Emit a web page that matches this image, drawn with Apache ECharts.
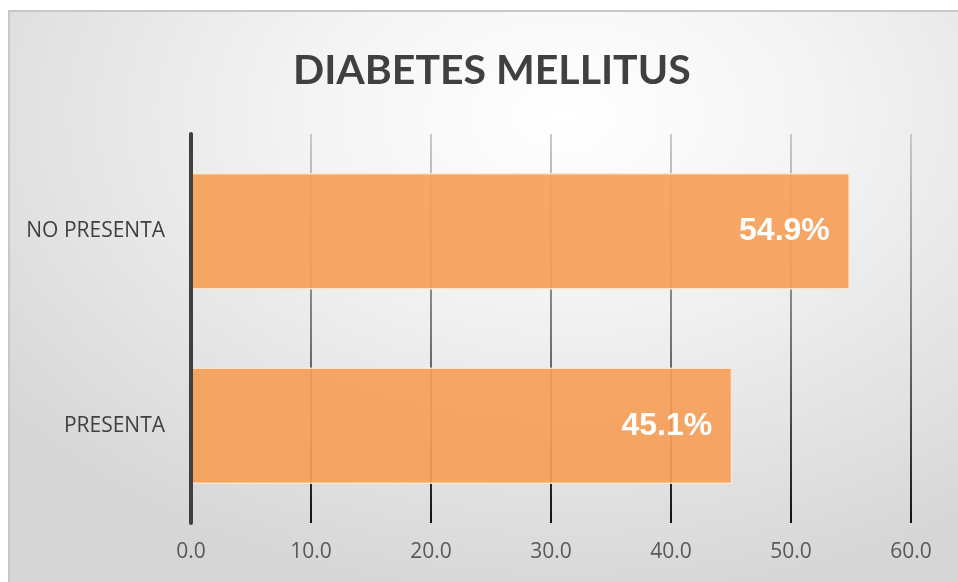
<!DOCTYPE html>
<html>
<head>
<meta charset="utf-8">
<script src="https://cdn.jsdelivr.net/npm/echarts@6/dist/echarts.min.js"></script>
<style>
  html, body { margin: 0; padding: 0; background: #ffffff; }
  #frame {
    position: absolute; left: 8px; top: 10px; width: 960px; height: 580px;
    border: 2px solid #c8c8c8; box-sizing: border-box;
    background: radial-gradient(ellipse 75% 85% at 58% 18%, #ffffff 0%, #f4f4f4 35%, #e4e4e4 70%, #d6d6d6 100%);
  }
  #chart { position: absolute; left: 0; top: 0; width: 958px; height: 582px; }
</style>
</head>
<body>
<div id="frame"></div>
<div id="chart"></div>
<script>
// Categories listed bottom-to-top (category axis on y starts at the bottom)
const categories = ['PRESENTA', 'NO PRESENTA'];
const percentages = [45.1, 54.9];
const xTicks = { min: 0, max: 60, step: 10 };

const chart = echarts.init(document.getElementById('chart'), null, { renderer: 'canvas' });

chart.setOption({
  backgroundColor: 'transparent',
  animation: false,
  title: {
    text: 'DIABETES MELLITUS',
    left: 288,
    top: 45,
    textStyle: { fontFamily: 'Lato', fontWeight: 'bold', fontSize: 41, color: '#404040' }
  },
  grid: { left: 191, right: 47, top: 134, bottom: 59, containLabel: false },
  xAxis: {
    type: 'value',
    min: xTicks.min, max: xTicks.max, interval: xTicks.step,
    axisLine: { show: false },
    axisTick: { show: false },
    axisLabel: {
      margin: 19,
      fontFamily: 'Open Sans', fontSize: 21, color: '#595959',
      formatter: v => v.toFixed(1)
    },
    splitLine: {
      show: true,
      lineStyle: {
        width: 2,
        color: new echarts.graphic.LinearGradient(0, 0, 0, 1, [
          { offset: 0, color: '#cbcbcb' },
          { offset: 0.5, color: '#7a7a7a' },
          { offset: 1, color: '#111111' }
        ])
      }
    }
  },
  yAxis: {
    type: 'category',
    data: categories,
    z: 5,
    axisLine: { show: true, lineStyle: { color: '#404040', width: 4 } },
    axisTick: { show: false },
    axisLabel: { margin: 26, fontFamily: 'Open Sans', fontSize: 21, color: '#404040' }
  },
  series: [{
    type: 'bar',
    data: percentages,
    barWidth: '60%',
    itemStyle: {
      color: 'rgba(245, 160, 88, 0.92)',
      borderColor: 'rgba(255, 230, 205, 0.9)',
      borderWidth: 1.5
    },
    label: {
      show: true,
      position: 'insideRight',
      distance: 20,
      formatter: p => p.value.toFixed(1) + '%',
      fontFamily: 'Liberation Sans', fontWeight: 'bold', fontSize: 32, color: '#ffffff'
    }
  }]
});
</script>
</body>
</html>
